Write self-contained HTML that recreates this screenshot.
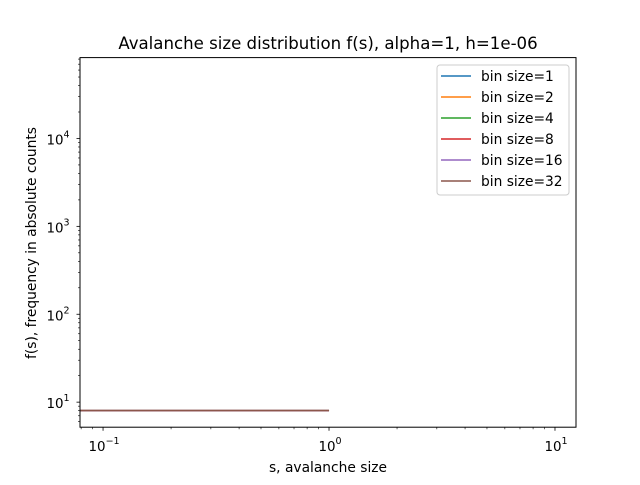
<!DOCTYPE html>
<html><head><meta charset="utf-8"><style>
body{margin:0;background:#fff}
svg{font-family:"DejaVu Sans","Liberation Sans",sans-serif}
</style></head><body>
<svg id="chart" width="640" height="480" viewBox="0 0 640 480">
<rect width="640" height="480" fill="#fff"/>
<text x="328" y="49" text-anchor="middle" font-size="16.6">Avalanche size distribution f(s), alpha=1, h=1e-06</text>
<g id="ticks"></g>
<g id="series"></g>
<rect x="80" y="57.6" width="496" height="369.6" fill="none" stroke="#000" stroke-width="1"/>
<text x="328" y="472" text-anchor="middle" font-size="13.8">s, avalanche size</text>
<text transform="translate(36,243) rotate(-90)" text-anchor="middle" font-size="13.8">f(s), frequency in absolute counts</text>
<g id="legend"></g>
</svg>
<script>
const seriesLabels=["bin size=1","bin size=2","bin size=4","bin size=8","bin size=16","bin size=32"];
const seriesColors=["#1f77b4","#ff7f0e","#2ca02c","#d62728","#9467bd","#8c564b"];
const sValues=[0,1];
const fValues=[8,8];
const xTickExps=[-1,0,1];
const yTickExps=[1,2,3,4];
const L=80,R=576,T=57.6,B=427.2;
const xmin=-1.102,xmax=1.093,ymin=0.715,ymax=4.92;
const NS="http://www.w3.org/2000/svg";
function X(v){const lv=v>0?Math.log10(v):xmin;return L+(Math.max(lv,xmin)-xmin)/(xmax-xmin)*(R-L);}
function Y(v){return B-(Math.log10(v)-ymin)/(ymax-ymin)*(B-T);}
function mk(t,a,p){const e=document.createElementNS(NS,t);for(const k in a)e.setAttribute(k,a[k]);p.appendChild(e);return e;}
const tg=document.getElementById('ticks');
for(let d=-2;d<=1;d++)for(let m=1;m<10;m++){const v=m*Math.pow(10,d);const lv=Math.log10(v);if(lv<xmin||lv>xmax)continue;const x=X(v);
const ln=mk('line',{x1:x,x2:x,y1:B,y2:B+(m==1?3.5:2),stroke:'#000','stroke-width':m==1?0.8:0.6},tg);

}
for(let d=0;d<=4;d++)for(let m=1;m<10;m++){const v=m*Math.pow(10,d);const lv=Math.log10(v);if(lv<ymin||lv>ymax)continue;const y=Y(v);
const ln=mk('line',{x1:L,x2:L-(m==1?3.5:2),y1:y,y2:y,stroke:'#000','stroke-width':m==1?0.8:0.6},tg);

}
xTickExps.forEach(e=>{const t=mk('text',{x:X(Math.pow(10,e))+1,y:B+24,'text-anchor':'middle','font-size':13.4},tg);


t.innerHTML='10<tspan dy="-7" font-size="9.5">'+(e<0?'\u2212'+(-e):e)+'</tspan>';});
yTickExps.forEach(e=>{const t=mk('text',{x:L-22,y:Y(Math.pow(10,e))+6,'text-anchor':'middle','font-size':13.4},tg);


t.innerHTML='10<tspan dy="-7" font-size="9.5">'+e+'</tspan>';});
const sg=document.getElementById('series');
seriesLabels.forEach((lab,i)=>{const pts=sValues.map((s,j)=>X(s)+','+Y(fValues[j])).join(' ');
const pl=mk('polyline',{points:pts,fill:'none',stroke:seriesColors[i],'stroke-width':1.5},sg);

});
const lg=document.getElementById('legend');
const box=mk('rect',{x:437,y:65,width:132,height:130,rx:3,fill:'#fff',stroke:'#ccc','stroke-width':1},lg);


seriesLabels.forEach((lab,i)=>{const y=76+i*21;
const ln=mk('line',{x1:441,x2:471,y1:y,y2:y,stroke:seriesColors[i],'stroke-width':1.5},lg);


const t=mk('text',{x:481,y:y+5,'font-size':13.8},lg);t.textContent=lab;

});
</script>
</body></html>
